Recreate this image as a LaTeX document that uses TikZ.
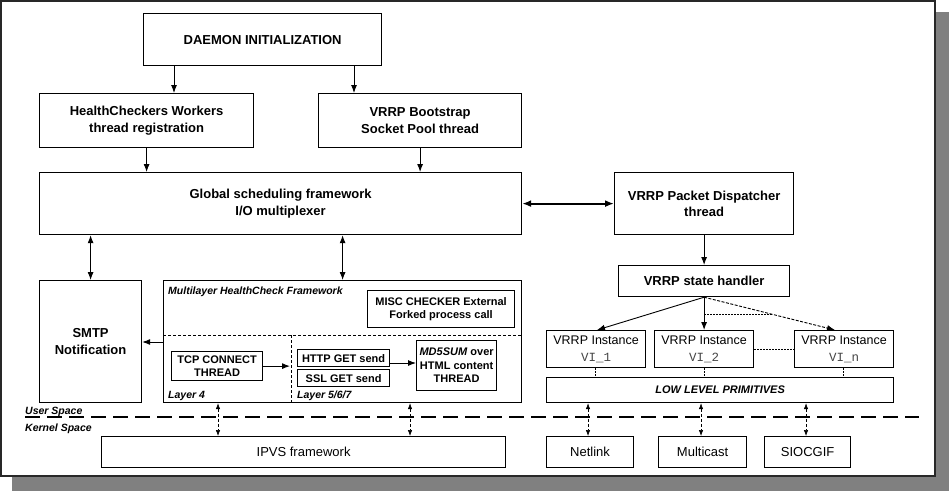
\documentclass[tikz,border=0pt]{standalone}
\usepackage{fontspec}
\setmainfont{Liberation Sans}
\newfontfamily\monof{Liberation Mono}
\usetikzlibrary{arrows.meta}
\definecolor{shadowgray}{RGB}{128,128,128}
\definecolor{framecol}{RGB}{40,40,40}
\definecolor{vicol}{RGB}{70,70,70}
\begin{document}
\begin{tikzpicture}[x=1pt,y=-1pt,
  box/.style={draw, line width=1.2pt, inner sep=0pt, align=center, anchor=north west},
  bl/.style={font=\fontsize{13}{16.5}\selectfont\bfseries},
  sm/.style={font=\fontsize{11}{13.5}\selectfont\bfseries},
  rg/.style={font=\fontsize{13}{16}\selectfont},
  inst/.style={font=\fontsize{12.5}{17}\selectfont},
  lab/.style={font=\fontsize{10.5}{12}\selectfont\bfseries\itshape, inner sep=0pt},
  arr/.style={-{Latex[length=8pt,width=6pt]}, line width=0.9pt},
  darr/.style={{Latex[length=8pt,width=6pt]}-{Latex[length=8pt,width=6pt]}, line width=0.9pt},
  thickdarr/.style={{Latex[length=9pt,width=7pt]}-{Latex[length=9pt,width=7pt]}, line width=1.8pt},
  kdarr/.style={{Latex[length=6pt,width=4.5pt]}-{Latex[length=6pt,width=4.5pt]}, line width=0.6pt, dash pattern=on 3pt off 2pt},
  dotl/.style={line width=0.8pt, dash pattern=on 1.5pt off 1.5pt},
  sep/.style={line width=1pt, dash pattern=on 3pt off 2pt}
]
\useasboundingbox (0,0) rectangle (949,491);
% frame with shadow
\fill[shadowgray] (12,12) rectangle (949,491);
\draw[draw=framecol, fill=white, line width=2pt] (1,1) rectangle (935,476);

% top blocks
\node[box, bl, minimum width=238pt, minimum height=52pt] (daemon) at (143,13) {DAEMON INITIALIZATION};
\node[box, bl, minimum width=214pt, minimum height=54pt] (hc) at (39,93) {HealthCheckers Workers\\thread registration};
\node[box, bl, minimum width=203pt, minimum height=54pt] (boot) at (318,93) {VRRP Bootstrap\\Socket Pool thread};
\node[box, bl, minimum width=482pt, minimum height=62pt] (glob) at (39,172) {Global scheduling framework\\I/O multiplexer};
\node[box, bl, minimum width=179pt, minimum height=62pt] (disp) at (614,172) {VRRP Packet Dispatcher\\thread};
\node[box, bl, minimum width=171pt, minimum height=31pt] (state) at (618,265) {VRRP state handler};

% left lower blocks
\node[box, bl, minimum width=102pt, minimum height=122pt] (smtp) at (39,280) {SMTP\\Notification};
\node[box, minimum width=358pt, minimum height=122pt] (ml) at (163,280) {};
\node[lab, anchor=west] (mllab) at (168,292) {Multilayer HealthCheck Framework};
\node[box, sm, minimum width=147pt, minimum height=37pt] (misc) at (367,290) {MISC CHECKER External\\Forked process call};
\node[box, sm, minimum width=91pt, minimum height=29pt] (tcp) at (171,351) {TCP CONNECT\\THREAD};
\node[box, sm, minimum width=92pt, minimum height=17pt] (http) at (297,349) {HTTP GET send};
\node[box, sm, minimum width=92pt, minimum height=17pt] (ssl) at (297,369) {SSL GET send};
\node[box, sm, minimum width=80pt, minimum height=50pt] (md5) at (416,340) {\textit{MD5SUM} over\\HTML content\\THREAD};
\node[lab, anchor=west] (l4) at (168,396) {Layer 4};
\node[lab, anchor=west] (l567) at (297,396) {Layer 5/6/7};
\draw[sep] (ml.west |- 0,335) -- (ml.east |- 0,335);
\draw[sep] (291,335) -- (ml.south -| 291,0);

% VRRP instances
\node[box, inst, minimum width=99pt, minimum height=37pt] (vi1) at (546,330) {VRRP Instance\\{\monof\color{vicol}VI\_1}};
\node[box, inst, minimum width=99pt, minimum height=37pt] (vi2) at (654,330) {VRRP Instance\\{\monof\color{vicol}VI\_2}};
\node[box, inst, minimum width=99pt, minimum height=37pt] (vin) at (794,330) {VRRP Instance\\{\monof\color{vicol}VI\_n}};
\node[box, font=\fontsize{11}{13}\selectfont\bfseries\itshape, minimum width=347pt, minimum height=25pt] (llp) at (546,377) {LOW LEVEL PRIMITIVES};

% kernel blocks
\node[box, rg, minimum width=404pt, minimum height=31pt] (ipvs) at (101,436) {IPVS framework};
\node[box, rg, minimum width=87pt, minimum height=31pt] (netlink) at (546,436) {Netlink};
\node[box, rg, minimum width=88pt, minimum height=31pt] (mcast) at (658,436) {Multicast};
\node[box, rg, minimum width=86pt, minimum height=31pt] (siocgif) at (764,436) {SIOCGIF};

% user / kernel separator
\node[lab, anchor=base west] (us) at (25,414) {User Space};
\node[lab, anchor=west] (ks) at (25,429) {Kernel Space};
\coordinate (sepL) at (25,417);
\coordinate (sepR) at (919,417);
\draw[line width=1.6pt, dash pattern=on 15pt off 7pt] (sepL) -- (sepR);

% connectors
\draw[arr] (daemon.south -| 174,0) -- (hc.north -| 174,0);
\draw[arr] (daemon.south -| 354,0) -- (boot.north -| 354,0);
\draw[arr] (hc.south) -- (glob.north -| hc.south);
\draw[arr] (boot.south) -- (glob.north -| boot.south);
\draw[thickdarr] (glob.east) -- (disp.west);
\draw[arr] (disp.south) -- (state.north -| disp.south);
\draw[darr] (glob.south -| smtp.north) -- (smtp.north);
\draw[darr] (glob.south -| ml.north) -- (ml.north);
\draw[arr] (ml.west |- 0,342) -- (smtp.east |- 0,342);
\draw[arr] (tcp.east) -- (tcp.east -| 290,0);
\draw[arr] (http.east |- 0,363) -- (md5.west |- 0,363);

\draw[arr] (state.south) -- (vi1.north -| 597,0);
\draw[arr] (state.south) -- (vi2.north -| state.south);
\draw[arr, dash pattern=on 3pt off 1.5pt] (state.south) -- (vin.north -| 835,0);
\coordinate (dotend) at (773,314);
\draw[dotl] (state.south |- dotend) -- (dotend);
\draw[dotl] (vi2.east) -- (vin.west);

\draw[dotl] (vi1.south -| 595,0) -- (llp.north -| 595,0);
\draw[dotl] (vi2.south -| 704,0) -- (llp.north -| 704,0);
\draw[dotl] (vin.south -| 843,0) -- (llp.north -| 843,0);

\draw[kdarr] (ml.south -| 218,0) -- (ipvs.north -| 218,0);
\draw[kdarr] (ml.south -| 410,0) -- (ipvs.north -| 410,0);
\draw[kdarr] (llp.south -| 588,0) -- (netlink.north -| 588,0);
\draw[kdarr] (llp.south -| 701,0) -- (mcast.north -| 701,0);
\draw[kdarr] (llp.south -| 806,0) -- (siocgif.north -| 806,0);
\end{tikzpicture}
\end{document}
